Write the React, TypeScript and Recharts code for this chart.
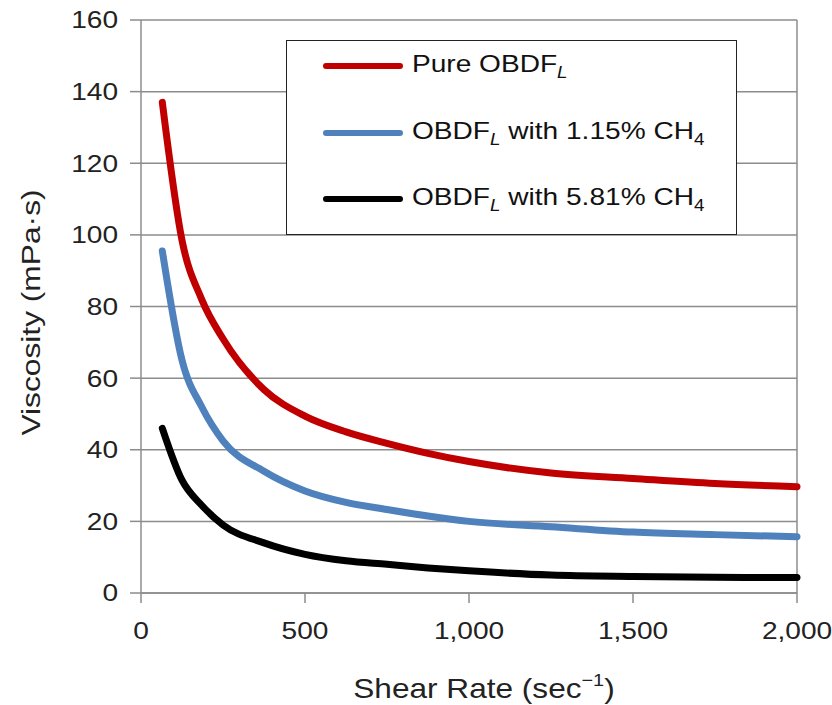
import React from 'react';
import { LineChart, Line, XAxis, YAxis, CartesianGrid, ReferenceLine, Label } from 'recharts';

const shearRate = [65, 125, 185, 250, 375, 500, 625, 750, 875, 1000, 1250, 1500, 1750, 2000];
const pureObdf = [137, 98.5, 82, 71, 56.8, 49.4, 45, 41.8, 39, 36.7, 33.5, 32, 30.6, 29.7];
const obdfCh4Low = [95.5, 65, 52, 42.5, 34, 28.5, 25.3, 23.3, 21.5, 20, 18.5, 17, 16.3, 15.7];
const obdfCh4High = [46, 31.5, 24.5, 19, 14, 10.8, 9, 8, 7, 6.2, 5, 4.6, 4.4, 4.3];

const xTicks = [0, 500, 1000, 1500, 2000];
const yTicks = [0, 20, 40, 60, 80, 100, 120, 140, 160];

const series = [
  { key: 'pure', name: 'Pure OBDF', pct: '', color: '#c00000' },
  { key: 'low', name: 'OBDF', pct: '1.15', color: '#4f81bd' },
  { key: 'high', name: 'OBDF', pct: '5.81', color: '#000000' },
];

const data = shearRate.map((x, i) => ({
  x,
  pure: pureObdf[i],
  low: obdfCh4Low[i],
  high: obdfCh4High[i],
}));

const font = '"Liberation Sans", Arial, sans-serif';
const gridColor = '#8c8c8c';
const textColor = '#222';
// the source figure's lettering is a bit wider than Arial
const stretch = 1.17;

const XTick = (props: any) => {
  const { x, y, payload } = props;
  return (
    <text
      transform={`translate(${x}, ${y}) scale(${stretch}, 1)`}
      textAnchor="middle"
      dy="0.71em"
      fontFamily={font}
      fontSize={24}
      fill={textColor}
    >
      {Number(payload.value).toLocaleString('en-US')}
    </text>
  );
};

const YTick = (props: any) => {
  const { x, y, payload } = props;
  return (
    <text
      transform={`translate(${x}, ${y}) scale(${stretch}, 1)`}
      textAnchor="end"
      dy="0.35em"
      fontFamily={font}
      fontSize={24}
      fill={textColor}
    >
      {payload.value}
    </text>
  );
};

const XTitle = () => (
  <text
    transform={`translate(484, 698) scale(${stretch}, 1)`}
    textAnchor="middle"
    fontFamily={font}
    fontSize={27}
    fill={textColor}
  >
    Shear Rate (sec
    <tspan dy={-12} fontSize={17}>−1</tspan>
    <tspan dy={12}>)</tspan>
  </text>
);

const YTitle = (props: any) => {
  const vb = props.viewBox;
  const cy = vb.y + vb.height / 2 + 6;
  return (
    <text
      transform={`translate(40, ${cy}) rotate(-90) scale(${stretch + 0.05}, 1)`}
      textAnchor="middle"
      fontFamily={font}
      fontSize={26}
      fill={textColor}
    >
      Viscosity (mPa·s)
    </text>
  );
};

const LegendBox = () => (
  <div
    style={{
      position: 'absolute',
      left: 286,
      top: 40,
      width: 449,
      height: 193,
      border: '1.5px solid #222',
      background: '#fff',
      fontFamily: font,
      fontSize: 24,
      color: '#111',
    }}
  >
    {series.map((s, i) => (
      <div
        key={s.key}
        style={{
          position: 'absolute',
          left: 0,
          top: 25 + i * 66.5 - 16,
          height: 32,
          display: 'flex',
          alignItems: 'center',
          whiteSpace: 'nowrap',
        }}
      >
        <div
          style={{
            marginLeft: 36,
            width: 80,
            height: 6,
            borderRadius: 3,
            background: s.color,
          }}
        />
        <span
          style={{
            marginLeft: 9,
            display: 'inline-block',
            transform: `scaleX(${stretch})`,
            transformOrigin: 'left center',
          }}
        >
          {s.name}
          <sub style={{ fontStyle: 'italic', fontSize: 16 }}>L</sub>
          {s.pct && (
            <>
              {' '}with {s.pct}% CH<sub style={{ fontSize: 16 }}>4</sub>
            </>
          )}
        </span>
      </div>
    ))}
  </div>
);

export default function App() {
  return (
    <div style={{ position: 'absolute', left: 0, top: 0, width: 832, height: 705, background: '#fff' }}>
      <LineChart
        width={832}
        height={705}
        data={data}
        margin={{ top: 20, right: 35, left: 60, bottom: 52 }}
      >
        <CartesianGrid vertical={false} stroke={gridColor} strokeWidth={1.5} />
        <XAxis
          dataKey="x"
          type="number"
          domain={[0, 2000]}
          ticks={xTicks}
          height={60}
          stroke={gridColor}
          strokeWidth={1.5}
          tickSize={10}
          tickMargin={19}
          tick={<XTick />}
        >
          <Label content={XTitle} />
        </XAxis>
        <YAxis
          type="number"
          domain={[0, 160]}
          ticks={yTicks}
          width={81}
          stroke={gridColor}
          strokeWidth={1.5}
          tickSize={11}
          tickMargin={12}
          tick={<YTick />}
        >
          <Label content={YTitle} />
        </YAxis>
        <ReferenceLine x={2000} stroke={gridColor} strokeWidth={1.5} />
        {series.map((s) => (
          <Line
            key={s.key}
            dataKey={s.key}
            type="monotone"
            stroke={s.color}
            strokeWidth={7}
            strokeLinecap="round"
            dot={false}
            activeDot={false}
            isAnimationActive={false}
          />
        ))}
      </LineChart>
      <LegendBox />
    </div>
  );
}
